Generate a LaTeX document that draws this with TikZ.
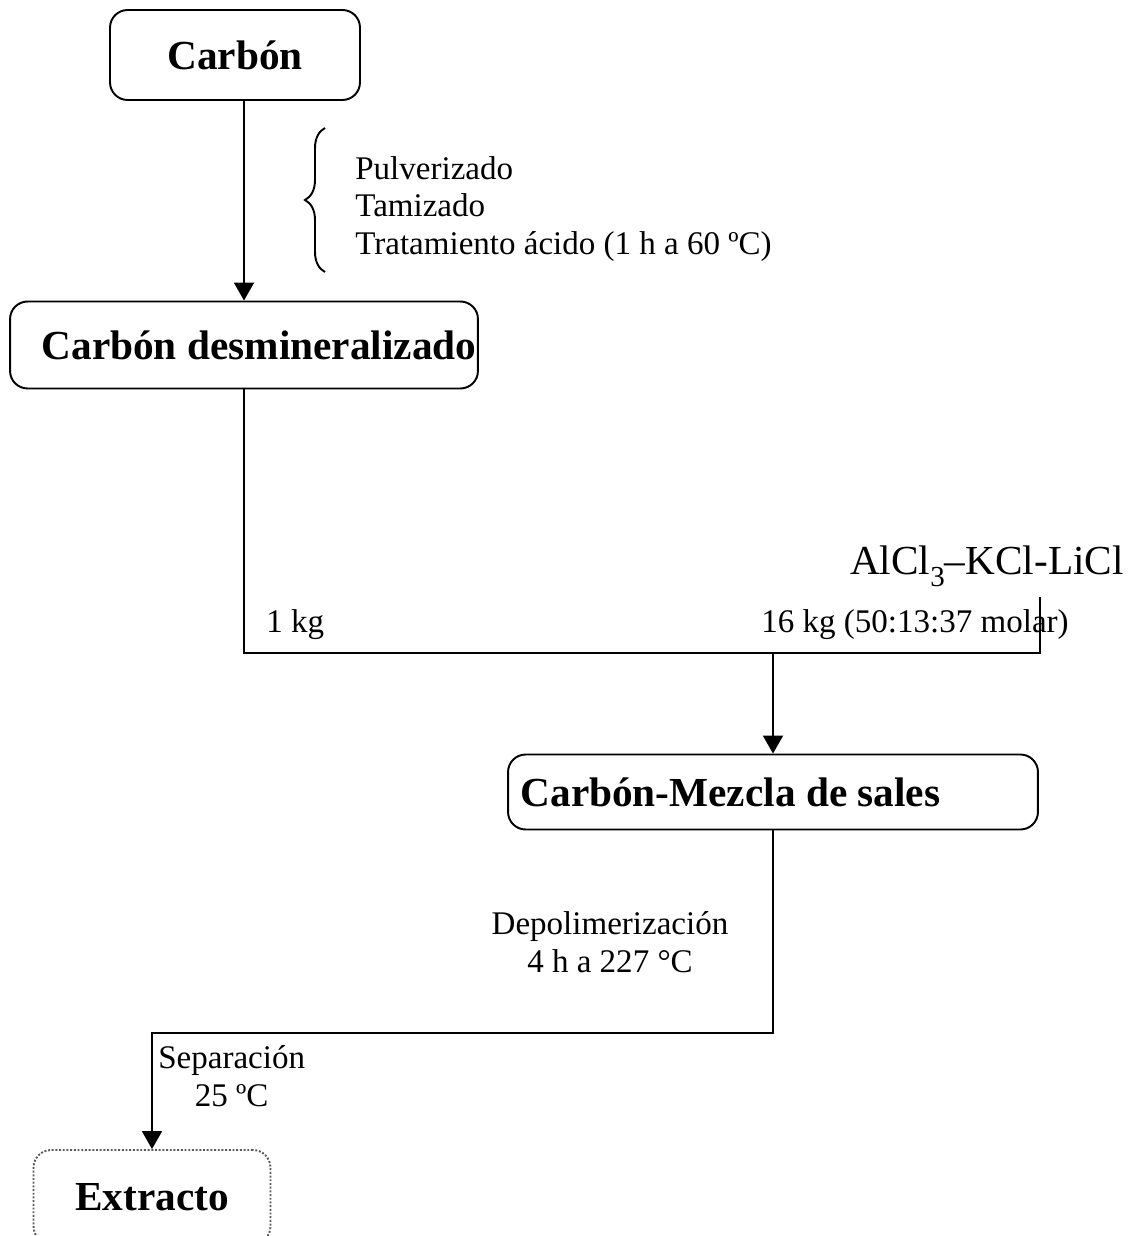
\documentclass[tikz,border=0pt]{standalone}
\usepackage{fontspec}
\setmainfont{Liberation Serif}
\usetikzlibrary{arrows.meta,decorations.pathreplacing}
\tikzset{
  stage/.style={draw, rounded corners=10pt, line width=1.1pt, inner sep=0pt, align=center, font=\fontsize{23.5}{27}\selectfont\bfseries},
  lastone/.style={stage, draw=black!65, densely dotted},
  note/.style={inner sep=0pt, align=center, font=\fontsize{18.8}{21.3}\selectfont},
  notebig/.style={inner sep=0pt, font=\fontsize{23.5}{27}\selectfont},
  line/.style={line width=1.1pt},
  arrow/.style={line, -{Triangle[length=3.6mm, width=4mm]}}
}
\begin{document}
\begin{tikzpicture}[x=0.02cm, y=-0.02cm]
  \useasboundingbox (0,0) rectangle (1134,1236);
  \clip (0,0) rectangle (1134,1236);
  % boxes
  \node[stage, minimum width=5cm, minimum height=1.8cm] (carbon) at (235,55) {Carbón};
  \node[stage, minimum width=9.36cm, minimum height=1.74cm] (desmin) at (244,345) {\hspace*{17pt}Carbón desmineralizado};
  \node[stage, minimum width=10.6cm, minimum height=1.5cm] (mezcla) at (773,792) {\makebox[10.1cm][l]{Carbón-Mezcla de sales}};
  \node[lastone, minimum width=4.74cm, minimum height=1.88cm] (extracto) at (152,1197) {Extracto};
  % labels
  \node[note, align=left, anchor=west] (steps) at (355,209) {Pulverizado\\Tamizado\\Tratamiento ácido (1 h a 60 ºC)};
  \node[notebig, anchor=base] (salt) at (987,574) {AlCl\raisebox{-0.3em}{\fontsize{16.5}{17}\selectfont 3}--KCl-LiCl};
  \node[note, anchor=base west] (onekg) at (266,632) {1 kg};
  \node[note, anchor=base west] (sixteenkg) at (761,632) {16 kg (50:13:37 molar)};
  \node[note] (depol) at (610,942) {Depolimerización\\4 h a 227 °C};
  \node[note, anchor=west] (separ) at (158,1076) {Separación\\25 ºC};
  % connectors
  \coordinate (tick) at (1040,597);
  \coordinate (corner) at (1040,653);
  \coordinate (bend) at (152,1033);
  \draw[arrow] (carbon.south -| desmin) -- (desmin.north);
  \draw[line, decorate, decoration={brace, amplitude=0.4cm}] (325,272) -- (325,128);
  \draw[line] (desmin.south) |- (corner) -- (tick);
  \draw[arrow] (mezcla.north |- corner) -- (mezcla.north);
  \draw[arrow] (mezcla.south) |- (bend) -- (extracto.north);
\end{tikzpicture}
\end{document}
